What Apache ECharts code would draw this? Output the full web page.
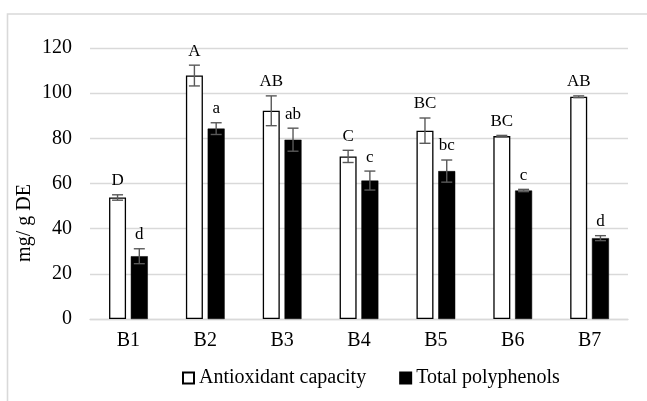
<!DOCTYPE html>
<html>
<head>
<meta charset="utf-8">
<script src="https://cdn.jsdelivr.net/npm/echarts@6/dist/echarts.min.js"></script>
<style>html,body{margin:0;padding:0;background:#fff;}#c{width:647px;height:401px;}</style>
</head>
<body>
<div id="c"></div>
<script>
var categories = ['B1','B2','B3','B4','B5','B6','B7'];
var antioxidant = [53.8, 107.8, 92.2, 72.0, 83.4, 81.0, 98.4];
var antioxidantErr = [1.2, 4.6, 6.6, 2.7, 5.6, 0.3, 0.4];
var antioxidantLetters = ['D','A','AB','C','BC','BC','AB'];
var polyphenols = [27.8, 84.3, 79.4, 61.3, 65.5, 56.9, 35.8];
var polyphenolsErr = [3.3, 2.6, 5.1, 4.2, 4.9, 0.5, 1.1];
var polyphenolsLetters = ['d','a','ab','c','bc','c','d'];
var yTicks = {min: 0, max: 120, interval: 20};
var seriesNames = ['Antioxidant capacity', 'Total polyphenols'];
var yTitle = 'mg/ g DE';

var FONT = '"Liberation Serif", "Times New Roman", serif';
var BAR_W = 17, BAR_GAP = 0.28;
var OFFSET = (BAR_W + BAR_W * BAR_GAP) / 2;

function errSeries(vals, errs, letters, dir) {
  return {
    type: 'custom',
    z: 5,
    silent: true,
    data: vals.map(function (v, i) { return [i, v, errs[i]]; }),
    renderItem: function (params, api) {
      var i = api.value(0), v = api.value(1), e = api.value(2);
      var c = api.coord([i, v]);
      var t = api.coord([i, v + e]);
      var b = api.coord([i, v - e]);
      var x = c[0] + dir * OFFSET;
      var hw = 5.5;
      var st = {stroke: '#595959', lineWidth: 1.4};
      return {
        type: 'group',
        children: [
          {type: 'line', shape: {x1: x, y1: t[1], x2: x, y2: b[1]}, style: st},
          {type: 'line', shape: {x1: x - hw, y1: t[1], x2: x + hw, y2: t[1]}, style: st},
          {type: 'line', shape: {x1: x - hw, y1: b[1], x2: x + hw, y2: b[1]}, style: st},
          {type: 'text', x: x, y: t[1] - 14, style: {
            text: letters[params.dataIndex], fill: '#000',
            font: '17px ' + FONT, textAlign: 'center', textVerticalAlign: 'middle'}}
        ]
      };
    }
  };
}

var chart = echarts.init(document.getElementById('c'), null, {renderer: 'canvas'});
chart.setOption({
  animation: false,
  backgroundColor: '#fff',
  grid: {left: 90, right: 19, top: 48, bottom: 82, containLabel: false},
  graphic: [
    {type: 'rect', z: -10, shape: {x: 7.5, y: 14, width: 680, height: 420},
      style: {fill: 'none', stroke: '#d9d9d9', lineWidth: 1.6}},
    {type: 'text', x: 25, y: 223, rotation: Math.PI / 2,
      style: {text: yTitle, font: '20px ' + FONT, fill: '#000',
        textAlign: 'center', textVerticalAlign: 'middle'}}
  ],
  legend: {
    data: seriesNames,
    left: 182, top: 368, padding: 0,
    itemWidth: 11, itemHeight: 11, itemGap: 33,
    icon: 'rect',
    textStyle: {fontFamily: FONT, fontSize: 20, color: '#000'}
  },
  xAxis: {
    type: 'category',
    data: categories,
    axisLine: {lineStyle: {color: '#d9d9d9', width: 1.4}},
    axisTick: {show: false},
    axisLabel: {fontFamily: FONT, fontSize: 20, color: '#000', margin: 12}
  },
  yAxis: {
    type: 'value',
    min: yTicks.min, max: yTicks.max, interval: yTicks.interval,
    axisLine: {show: false},
    axisTick: {show: false},
    splitLine: {lineStyle: {color: '#d9d9d9', width: 1.4}},
    axisLabel: {fontFamily: FONT, fontSize: 20, color: '#000', margin: 18}
  },
  series: [
    {name: seriesNames[0], type: 'bar', data: antioxidant, barWidth: BAR_W, barGap: (BAR_GAP * 100) + '%',
      itemStyle: {color: '#fff', borderColor: '#000', borderWidth: 1.3}},
    {name: seriesNames[1], type: 'bar', data: polyphenols, barWidth: BAR_W,
      itemStyle: {color: '#000', borderColor: '#000', borderWidth: 0.5}},
    errSeries(antioxidant, antioxidantErr, antioxidantLetters, -1),
    errSeries(polyphenols, polyphenolsErr, polyphenolsLetters, 1)
  ]
});
</script>
</body>
</html>
